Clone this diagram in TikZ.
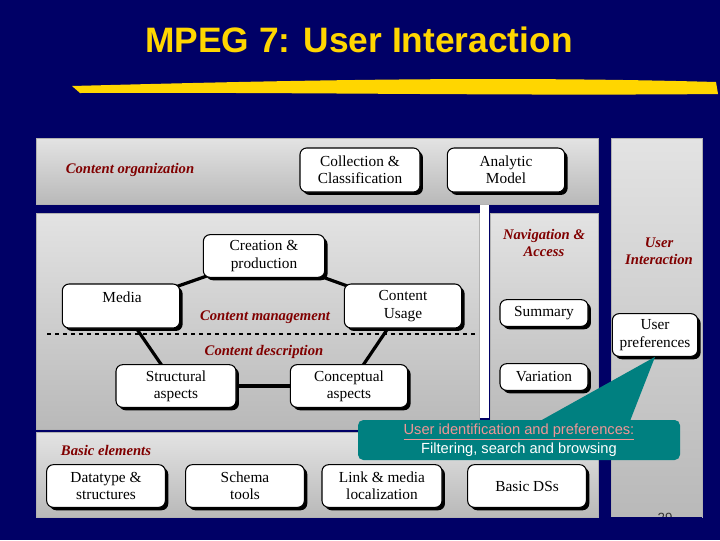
\documentclass[tikz,border=0pt]{standalone}
\usepackage{fontspec}
\setmainfont{Liberation Serif}
\newfontfamily\arialf{Liberation Sans}
\usetikzlibrary{shadows}
\definecolor{navy}{RGB}{0,0,102}
\definecolor{darkred}{RGB}{128,0,0}
\definecolor{teal2}{RGB}{0,128,128}
\definecolor{pinktxt}{RGB}{240,150,150}
\definecolor{titley}{RGB}{255,214,0}
\tikzset{
  panel/.style={draw=gray!60!white, line width=0.6pt, top color=gray!22, bottom color=gray!55},
  bx/.style={draw=black, fill=white, rounded corners=5pt, line width=0.8pt, align=center,
    font=\fontsize{11.5pt}{13pt}\selectfont, inner sep=0pt,
    drop shadow={shadow xshift=2.2pt, shadow yshift=-2.2pt, fill=black, opacity=1}},
  lbl/.style={text=darkred, font=\fontsize{11pt}{13pt}\selectfont\itshape\bfseries, align=center},
  con/.style={line width=2.4pt, black},
}
\begin{document}
\begin{tikzpicture}[x=0.75pt,y=-0.75pt]
\fill[navy] (0,0) rectangle (720,540);
\useasboundingbox (0,0) rectangle (720,540);
\node[text=titley, font=\arialf\bfseries\fontsize{26.5pt}{30pt}\selectfont] (title) at (359,40) {MPEG 7: User Interaction};
\fill[titley] (72,86) .. controls (300,80) and (500,76) .. (716,82) -- (718,94) .. controls (500,96) and (300,92) .. (80,93) -- cycle;
% panels
\fill[panel] (36,138) rectangle (598,204);
\fill[panel] (36,213) rectangle (479,429);
\fill[panel] (490,213) rectangle (598,429);
\fill[panel] (36,432) rectangle (598,517);
\fill[white] (480,205) rectangle (489,418);
\fill[panel] (611,138) rectangle (702,517);
% labels
\node[lbl] (lco) at (130,170) {Content organization};
\node[lbl] (lna) at (544,243) {Navigation \&\\Access};
\node[lbl] (lui) at (659,251) {User\\Interaction};
\node[lbl] (lcm) at (265,317) {Content management};
\node[lbl] (lcd) at (264,352) {Content description};
\node[lbl] (lbe) at (106,450) {Basic elements};
\draw[dashed, line width=1pt] (47,334) -- (478,334);
% connectors
\coordinate (cp) at (264,256);
\coordinate (me) at (121,306);
\coordinate (cu) at (403,306);
\coordinate (sa) at (176,386);
\coordinate (ca) at (349,386);
\draw[con] (cp) -- (me);
\draw[con] (cp) -- (cu);
\draw[con] (me) -- (sa);
\draw[con] (cu) -- (ca);
\draw[con] (sa) -- (ca);
% boxes
\node[bx, minimum width=90pt, minimum height=33pt] (coll) at (360,170) {Collection \&\\Classification};
\node[bx, minimum width=88pt, minimum height=33pt] (anal) at (506,170) {Analytic\\Model};
\node[bx, minimum width=91pt, minimum height=32pt] (crea) at (cp) {Creation \&\\production};
\node[bx, minimum width=88pt, minimum height=33pt] (media) at (me) {};
\node (mediat) at (122,297) [font=\fontsize{11.5pt}{13pt}\selectfont] {Media};
\node[bx, minimum width=88pt, minimum height=33pt] (cuse) at (cu) {Content\\Usage};
\node[bx, minimum width=90pt, minimum height=32pt] (stru) at (sa) {Structural\\aspects};
\node[bx, minimum width=88pt, minimum height=32pt] (conc) at (ca) {Conceptual\\aspects};
\node[bx, minimum width=66pt, minimum height=20pt] (summ) at (544,313) {Summary};
\node[bx, minimum width=66pt, minimum height=20pt] (vari) at (544,377) {Variation};
\node[bx, minimum width=64pt, minimum height=32pt] (upre) at (655,335) {User\\preferences};
\node[bx, minimum width=89pt, minimum height=32pt] (dtyp) at (106,486) {Datatype \&\\structures};
\node[bx, minimum width=89pt, minimum height=32pt] (sche) at (245,486) {Schema\\tools};
\node[bx, minimum width=90pt, minimum height=32pt] (link) at (382,486) {Link \& media\\localization};
\node[bx, minimum width=89pt, minimum height=32pt] (bdss) at (527,486) {Basic DSs};
% callout
\fill[teal2, rounded corners=4pt] (358,420) rectangle (680,460);
\fill[teal2] (540,421) -- (upre.south) -- (630,421) -- cycle;
\node[align=center, font=\arialf\fontsize{11pt}{14.5pt}\selectfont] (call) at (519,440)
  {\textcolor{pinktxt}{\underline{User identification and preferences:}}\\\textcolor{white}{Filtering, search and browsing}};
\node[text=black!80, font=\arialf\fontsize{10pt}{12pt}\selectfont] (pg) at (665,518) {29};
\fill[navy] (611,517) rectangle (702,540);
\end{tikzpicture}
\end{document}
